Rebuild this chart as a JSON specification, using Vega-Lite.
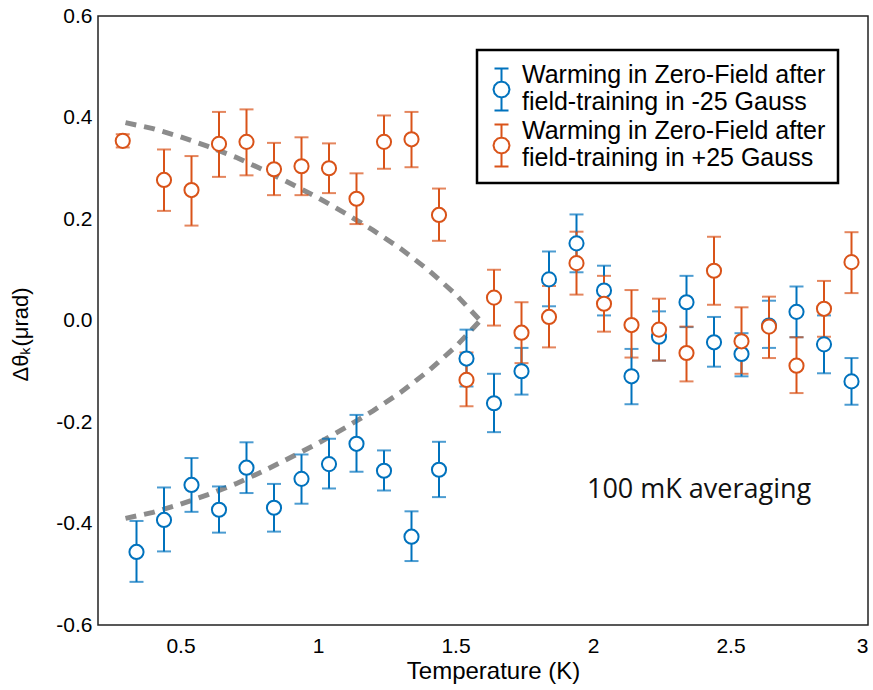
{
  "$schema": "https://vega.github.io/schema/vega-lite/v6.json",
  "width": 770,
  "height": 609,
  "autosize": {"type": "none"},
  "padding": {"left": 98, "top": 16, "right": 5, "bottom": 65},
  "background": "white",
  "config": {
    "view": {"stroke": "#222222", "strokeWidth": 1.5},
    "axis": {
      "domain": false,
      "ticks": false,
      "grid": true,
      "gridColor": "#222222",
      "gridWidth": 1.5,
      "gridOpacity": 1,
      "labelFont": "Liberation Sans",
      "labelFontSize": 21,
      "labelColor": "black",
      "titleFont": "Liberation Sans",
      "titleFontWeight": "normal",
      "titleColor": "black"
    },
    "legend": {"strokeWidth": 2.5}
  },
  "datasets": {
    "pts": [
      {"T": 0.34, "y": -0.456, "lo": -0.515, "hi": -0.395, "series": "neg"},
      {"T": 0.44, "y": -0.393, "lo": -0.455, "hi": -0.329, "series": "neg"},
      {"T": 0.54, "y": -0.324, "lo": -0.377, "hi": -0.271, "series": "neg"},
      {"T": 0.64, "y": -0.373, "lo": -0.418, "hi": -0.327, "series": "neg"},
      {"T": 0.74, "y": -0.290, "lo": -0.340, "hi": -0.240, "series": "neg"},
      {"T": 0.84, "y": -0.369, "lo": -0.416, "hi": -0.322, "series": "neg"},
      {"T": 0.94, "y": -0.312, "lo": -0.361, "hi": -0.264, "series": "neg"},
      {"T": 1.04, "y": -0.283, "lo": -0.331, "hi": -0.233, "series": "neg"},
      {"T": 1.14, "y": -0.243, "lo": -0.298, "hi": -0.186, "series": "neg"},
      {"T": 1.24, "y": -0.296, "lo": -0.335, "hi": -0.256, "series": "neg"},
      {"T": 1.34, "y": -0.426, "lo": -0.474, "hi": -0.376, "series": "neg"},
      {"T": 1.44, "y": -0.294, "lo": -0.348, "hi": -0.239, "series": "neg"},
      {"T": 1.54, "y": -0.075, "lo": -0.130, "hi": -0.018, "series": "neg"},
      {"T": 1.64, "y": -0.163, "lo": -0.220, "hi": -0.105, "series": "neg"},
      {"T": 1.74, "y": -0.100, "lo": -0.146, "hi": -0.054, "series": "neg"},
      {"T": 1.84, "y": 0.081, "lo": 0.028, "hi": 0.136, "series": "neg"},
      {"T": 1.94, "y": 0.152, "lo": 0.095, "hi": 0.209, "series": "neg"},
      {"T": 2.04, "y": 0.059, "lo": 0.010, "hi": 0.108, "series": "neg"},
      {"T": 2.14, "y": -0.110, "lo": -0.165, "hi": -0.056, "series": "neg"},
      {"T": 2.24, "y": -0.032, "lo": -0.079, "hi": 0.018, "series": "neg"},
      {"T": 2.34, "y": 0.036, "lo": -0.013, "hi": 0.088, "series": "neg"},
      {"T": 2.44, "y": -0.043, "lo": -0.091, "hi": 0.007, "series": "neg"},
      {"T": 2.54, "y": -0.066, "lo": -0.110, "hi": -0.025, "series": "neg"},
      {"T": 2.64, "y": -0.010, "lo": -0.054, "hi": 0.039, "series": "neg"},
      {"T": 2.74, "y": 0.017, "lo": -0.033, "hi": 0.067, "series": "neg"},
      {"T": 2.84, "y": -0.047, "lo": -0.104, "hi": 0.010, "series": "neg"},
      {"T": 2.94, "y": -0.120, "lo": -0.166, "hi": -0.074, "series": "neg"},
      {"T": 0.29, "y": 0.354, "lo": 0.341, "hi": 0.367, "series": "pos"},
      {"T": 0.44, "y": 0.277, "lo": 0.216, "hi": 0.337, "series": "pos"},
      {"T": 0.54, "y": 0.257, "lo": 0.187, "hi": 0.324, "series": "pos"},
      {"T": 0.64, "y": 0.348, "lo": 0.283, "hi": 0.411, "series": "pos"},
      {"T": 0.74, "y": 0.352, "lo": 0.286, "hi": 0.416, "series": "pos"},
      {"T": 0.84, "y": 0.298, "lo": 0.247, "hi": 0.350, "series": "pos"},
      {"T": 0.94, "y": 0.304, "lo": 0.247, "hi": 0.361, "series": "pos"},
      {"T": 1.04, "y": 0.300, "lo": 0.251, "hi": 0.349, "series": "pos"},
      {"T": 1.14, "y": 0.240, "lo": 0.190, "hi": 0.290, "series": "pos"},
      {"T": 1.24, "y": 0.352, "lo": 0.299, "hi": 0.404, "series": "pos"},
      {"T": 1.34, "y": 0.357, "lo": 0.302, "hi": 0.411, "series": "pos"},
      {"T": 1.44, "y": 0.208, "lo": 0.157, "hi": 0.260, "series": "pos"},
      {"T": 1.54, "y": -0.117, "lo": -0.169, "hi": -0.063, "series": "pos"},
      {"T": 1.64, "y": 0.045, "lo": -0.010, "hi": 0.100, "series": "pos"},
      {"T": 1.74, "y": -0.024, "lo": -0.084, "hi": 0.036, "series": "pos"},
      {"T": 1.84, "y": 0.007, "lo": -0.053, "hi": 0.068, "series": "pos"},
      {"T": 1.94, "y": 0.113, "lo": 0.051, "hi": 0.175, "series": "pos"},
      {"T": 2.04, "y": 0.033, "lo": -0.022, "hi": 0.088, "series": "pos"},
      {"T": 2.14, "y": -0.009, "lo": -0.073, "hi": 0.060, "series": "pos"},
      {"T": 2.24, "y": -0.018, "lo": -0.079, "hi": 0.043, "series": "pos"},
      {"T": 2.34, "y": -0.064, "lo": -0.120, "hi": -0.012, "series": "pos"},
      {"T": 2.44, "y": 0.098, "lo": 0.031, "hi": 0.165, "series": "pos"},
      {"T": 2.54, "y": -0.041, "lo": -0.105, "hi": 0.026, "series": "pos"},
      {"T": 2.64, "y": -0.012, "lo": -0.074, "hi": 0.047, "series": "pos"},
      {"T": 2.74, "y": -0.089, "lo": -0.143, "hi": -0.033, "series": "pos"},
      {"T": 2.84, "y": 0.023, "lo": -0.032, "hi": 0.078, "series": "pos"},
      {"T": 2.94, "y": 0.115, "lo": 0.054, "hi": 0.174, "series": "pos"}
    ],
    "curve": [
      {"T": 0.30, "v": 0.390, "branch": "up"},
      {"T": 0.40, "v": 0.378, "branch": "up"},
      {"T": 0.50, "v": 0.362, "branch": "up"},
      {"T": 0.60, "v": 0.343, "branch": "up"},
      {"T": 0.70, "v": 0.322, "branch": "up"},
      {"T": 0.80, "v": 0.297, "branch": "up"},
      {"T": 0.90, "v": 0.270, "branch": "up"},
      {"T": 1.00, "v": 0.242, "branch": "up"},
      {"T": 1.10, "v": 0.211, "branch": "up"},
      {"T": 1.20, "v": 0.178, "branch": "up"},
      {"T": 1.30, "v": 0.142, "branch": "up"},
      {"T": 1.40, "v": 0.100, "branch": "up"},
      {"T": 1.50, "v": 0.052, "branch": "up"},
      {"T": 1.59, "v": 0.000, "branch": "up"},
      {"T": 0.30, "v": -0.390, "branch": "down"},
      {"T": 0.40, "v": -0.378, "branch": "down"},
      {"T": 0.50, "v": -0.362, "branch": "down"},
      {"T": 0.60, "v": -0.343, "branch": "down"},
      {"T": 0.70, "v": -0.322, "branch": "down"},
      {"T": 0.80, "v": -0.297, "branch": "down"},
      {"T": 0.90, "v": -0.270, "branch": "down"},
      {"T": 1.00, "v": -0.242, "branch": "down"},
      {"T": 1.10, "v": -0.211, "branch": "down"},
      {"T": 1.20, "v": -0.178, "branch": "down"},
      {"T": 1.30, "v": -0.142, "branch": "down"},
      {"T": 1.40, "v": -0.100, "branch": "down"},
      {"T": 1.50, "v": -0.052, "branch": "down"},
      {"T": 1.59, "v": 0.000, "branch": "down"}
    ],
    "note": [
      {"T": 1.978, "v": -0.349, "label": "100 mK averaging"}
    ]
  },
  "layer": [
    {
      "mark": {"type": "rule", "color": "#222222", "strokeWidth": 1.3, "strokeDash": [6, 4]},
      "encoding": {
        "y": {"datum": 0, "type": "quantitative", "scale": {"domain": [-0.6, 0.6], "nice": false, "zero": false}, "axis": null}
      }
    },
    {
      "data": {"name": "curve"},
      "mark": {"type": "line", "color": "#8c8c8c", "strokeWidth": 5, "strokeDash": [11, 8]},
      "encoding": {
        "x": {"field": "T", "type": "quantitative", "scale": {"domain": [0.2, 3.0], "nice": false, "zero": false}, "axis": null},
        "y": {"field": "v", "type": "quantitative", "scale": {"domain": [-0.6, 0.6], "nice": false, "zero": false}, "axis": null},
        "detail": {"field": "branch"}
      }
    },
    {
      "data": {"name": "pts"},
      "mark": {"type": "errorbar", "ticks": {"size": 14}, "thickness": 2},
      "encoding": {
        "x": {"field": "T", "type": "quantitative", "scale": {"domain": [0.2, 3.0], "nice": false, "zero": false}, "axis": null},
        "y": {"field": "lo", "type": "quantitative", "scale": {"domain": [-0.6, 0.6], "nice": false, "zero": false}, "axis": null},
        "y2": {"field": "hi"},
        "color": {"field": "series", "type": "nominal", "scale": {"domain": ["neg", "pos"], "range": ["#0072BD", "#D95319"]}, "legend": null}
      }
    },
    {
      "data": {"name": "pts"},
      "mark": {"type": "point", "shape": "circle", "filled": false, "fill": "white", "fillOpacity": 1, "size": 200, "strokeWidth": 2, "opacity": 1},
      "encoding": {
        "x": {"field": "T", "type": "quantitative", "scale": {"domain": [0.2, 3.0], "nice": false, "zero": false},
              "axis": {"values": [0.5, 1, 1.5, 2, 2.5, 3], "format": "~g", "gridDash": [9, 591], "title": "Temperature (K)", "titleFontSize": 24, "titleX": 395, "labelPadding": 10, "titlePadding": 3}},
        "y": {"field": "y", "type": "quantitative", "scale": {"domain": [-0.6, 0.6], "nice": false, "zero": false},
              "axis": {"values": [-0.6, -0.4, -0.2, 0, 0.2, 0.4, 0.6], "gridDash": [9, 752], "labelExpr": "replace(format(datum.value, '.1f'), '\u2212', '-')", "title": "\u0394\u03b8\u2096(\u03bcrad)", "titleFontSize": 22, "titleY": 318, "labelPadding": 6, "titlePadding": 23}},
        "color": {"field": "series", "type": "nominal", "scale": {"domain": ["neg", "pos"], "range": ["#0072BD", "#D95319"]},
          "legend": {
            "orient": "none", "legendX": 379, "legendY": 34, "title": null,
            "strokeColor": "black", "fillColor": "white", "padding": 12,
            "labelFont": "Liberation Sans", "labelFontSize": 25, "labelLineHeight": 27, "labelColor": "black", "labelLimit": 0, "labelOffset": 8,
            "labelExpr": "datum.label == 'neg' ? ['Warming in Zero-Field after', 'field-training in -25 Gauss'] : ['Warming in Zero-Field after', 'field-training in +25 Gauss']",
            "symbolType": "M0,-0.6V0.7M0,2.3V3.6M-0.7,-0.6H0.7M-0.7,3.6H0.7M0.8,1.5L0.693,1.9L0.4,2.193L0,2.3L-0.4,2.193L-0.693,1.9L-0.8,1.5L-0.693,1.1L-0.4,0.807L0,0.7L0.4,0.807L0.693,1.1Z",
            "symbolSize": 400, "symbolStrokeWidth": 2, "symbolFillColor": "white", "rowPadding": 3
          }}
      }
    },
    {
      "data": {"name": "note"},
      "mark": {"type": "text", "font": "Open Sans", "fontSize": 27, "align": "left", "baseline": "alphabetic", "color": "#111111"},
      "encoding": {
        "x": {"field": "T", "type": "quantitative", "scale": {"domain": [0.2, 3.0], "nice": false, "zero": false}, "axis": null},
        "y": {"field": "v", "type": "quantitative", "scale": {"domain": [-0.6, 0.6], "nice": false, "zero": false}, "axis": null},
        "text": {"field": "label"}
      }
    }
  ],
  "resolve": {"axis": {"x": "independent", "y": "independent"}, "legend": {"color": "independent"}}
}
